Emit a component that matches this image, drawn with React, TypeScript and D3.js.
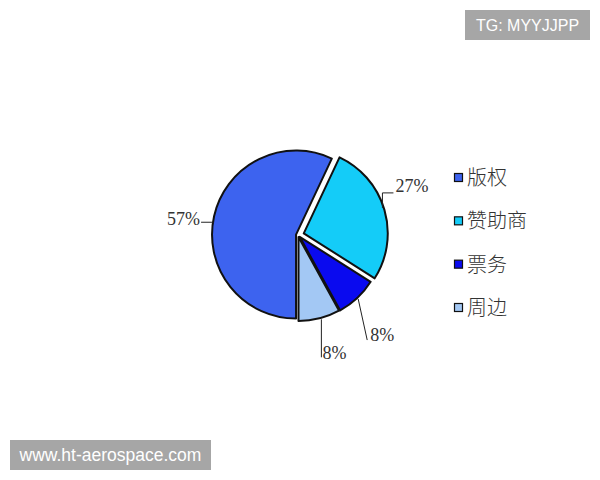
import { useEffect, useRef } from 'react';
import * as d3 from 'd3';

const categories = ['版权', '赞助商', '票务', '周边'];
const shares = [57, 27, 8, 8];
const shareLabels = ['57%', '27%', '8%', '8%'];
const colors = ['#3d63ef', '#14ccf8', '#0a0aef', '#a3c8f4'];

export default function App() {
  const ref = useRef<SVGSVGElement | null>(null);

  useEffect(() => {
    if (!ref.current) return;
    const svg = d3.select(ref.current);
    svg.selectAll('*').remove();

    const width = 600;
    const height = 480;
    const cx = 298;
    const cy = 235;
    const radius = 84;
    const explode = [2, 6, 2.5, 2];

    svg.attr('width', width).attr('height', height);
    svg.append('rect').attr('width', width).attr('height', height).attr('fill', '#fff');

    const pie = d3.pie<number>().sort(null).startAngle(Math.PI).endAngle(3 * Math.PI);
    const arcs = pie(shares);
    const arc = d3.arc<d3.PieArcDatum<number>>().innerRadius(0).outerRadius(radius);

    const g = svg.append('g').attr('transform', `translate(${cx},${cy})`);

    const mid = (d: d3.PieArcDatum<number>) => (d.startAngle + d.endAngle) / 2;

    g.selectAll('path.slice')
      .data(arcs)
      .enter()
      .append('path')
      .attr('class', 'slice')
      .attr('d', arc)
      .attr('transform', (d, i) => {
        const a = mid(d);
        return `translate(${Math.sin(a) * explode[i]},${-Math.cos(a) * explode[i]})`;
      })
      .attr('fill', (_, i) => colors[i])
      .attr('stroke', '#111')
      .attr('stroke-width', 2)
      .attr('stroke-linejoin', 'round');

    // leader lines and labels
    const labelFont = "'Liberation Serif', 'DejaVu Serif', serif";
    arcs.forEach((d, i) => {
      const a = mid(d);
      const r = radius + explode[i];
      const ex = Math.sin(a) * r;
      const ey = -Math.cos(a) * r;
      let pts: [number, number][] = [];
      let tx = 0;
      let ty = 0;
      let anchor = 'start';
      if (i === 0) {
        pts = [[ex, ey + 6], [ex - 13, ey + 6]];
        tx = ex - 14; ty = ey + 9; anchor = 'end';
      } else if (i === 1) {
        pts = [[ex - 2, ey - 2], [ex - 2, ey - 17], [ex + 9, ey - 17]];
        tx = ex + 11; ty = ey - 18;
      } else if (i === 2) {
        pts = [[ex + 1, ey + 1], [ex + 10, ey + 42]];
        tx = ex + 13; ty = ey + 43;
      } else {
        pts = [[ex + 2, ey + 1], [ex + 2, ey + 39]];
        tx = ex + 3; ty = ey + 41;
      }
      g.append('path')
        .attr('d', d3.line()(pts))
        .attr('fill', 'none')
        .attr('stroke', '#222')
        .attr('stroke-width', 1);
      g.append('text')
        .attr('x', tx)
        .attr('y', ty)
        .attr('text-anchor', anchor)
        .attr('font-family', labelFont)
        .attr('font-size', 18)
        .attr('fill', '#333')
        .text(shareLabels[i]);
    });

    // legend
    const legendY = d3.scalePoint<string>().domain(categories).range([178, 308]);
    const lg = svg.append('g');
    categories.forEach((c, i) => {
      const y = legendY(c)!;
      lg.append('rect')
        .attr('x', 454.5)
        .attr('y', y - 4.5)
        .attr('width', 8)
        .attr('height', 8)
        .attr('fill', colors[i])
        .attr('stroke', '#111')
        .attr('stroke-width', 1.2);
      lg.append('text')
        .attr('x', 467)
        .attr('y', y + 7)
        .attr('font-family', "'Noto Sans CJK SC', sans-serif")
        .attr('font-size', 20)
        .attr('font-weight', 300)
        .attr('fill', '#333')
        .text(c);
    });

    // watermark boxes
    const wm = [
      { x: 465, y: 10, w: 125, h: 30, size: 16, text: 'TG: MYYJJPP' },
      { x: 10, y: 440, w: 201, h: 30, size: 17.5, text: 'www.ht-aerospace.com' },
    ];
    wm.forEach(b => {
      svg.append('rect')
        .attr('x', b.x).attr('y', b.y).attr('width', b.w).attr('height', b.h)
        .attr('fill', '#a6a6a6');
      svg.append('text')
        .attr('x', b.x + b.w / 2)
        .attr('y', b.y + b.h / 2 + 6)
        .attr('text-anchor', 'middle')
        .attr('font-family', "'Liberation Sans', Arial, sans-serif")
        .attr('font-size', b.size)
        .attr('fill', '#fff')
        .text(b.text);
    });
  }, []);

  return (
    <svg ref={ref} style={{ position: 'absolute', left: 0, top: 0, display: 'block' }} />
  );
}
